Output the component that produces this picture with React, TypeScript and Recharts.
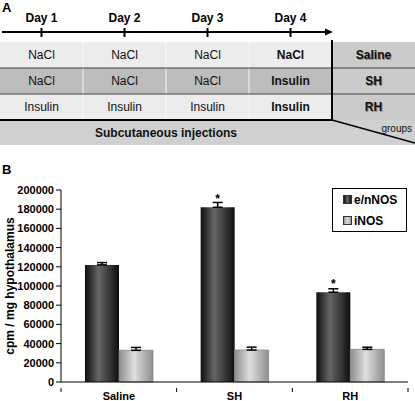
import React from "react";
import {
    BarChart,
    Bar,
    XAxis,
    YAxis,
    ErrorBar,
    LabelList,
    Label,
} from "recharts";

// Panel A: injection schedule
const DAYS = ["Day 1", "Day 2", "Day 3", "Day 4"];
const SCHEDULE = [
    ["NaCl", "NaCl", "NaCl", "NaCl"],
    ["NaCl", "NaCl", "NaCl", "Insulin"],
    ["Insulin", "Insulin", "Insulin", "Insulin"],
];
const GROUP_NAMES = ["Saline", "SH", "RH"];

// Panel B: NOS activity
const GROUPS = ["Saline", "SH", "RH"];
const ENNOS = [122000, 182000, 93500];
const ENNOS_ERR = [2400, 5000, 3600];
const INOS = [33000, 33300, 34000];
const INOS_ERR = [3000, 3000, 2200];
const SIG = ["", "*", "*"];
const Y_TICKS = [0, 20000, 40000, 60000, 80000, 100000, 120000, 140000, 160000, 180000, 200000];

const FONT = "Arial, 'Liberation Sans', sans-serif";

const W = 415;
const CHART_H = 231;
const MARGIN = { top: 20, right: 7, left: 0, bottom: 0 };
const Y_AXIS_W = 61;
const BAND = (W - MARGIN.left - MARGIN.right - Y_AXIS_W) / GROUPS.length;

const data = GROUPS.map((g, i) => ({
    group: g,
    ennos: ENNOS[i],
    ennosErr: [0, ENNOS_ERR[i]],
    inos: INOS[i],
    inosErr: [0, INOS_ERR[i]],
    sig: SIG[i],
}));

function Schedule() {
    const colW = 83;
    const rowTop = 42;
    const rowH = 26;
    const rowFill = ["#ececec", "#bdbdbd", "#ececec"];
    const tableRight = 332;
    return (
        <svg width={W} height={182} style={{ display: "block", position: "absolute", left: 0, top: 0 }} fontFamily={FONT}>
            <text x={2} y={12} fontSize={13} fontWeight="bold">A</text>
            {/* timeline */}
            <line x1={2} y1={32} x2={327} y2={32} stroke="#000" strokeWidth={2} />
            <polygon points="333,32 325,28.5 325,35.5" fill="#000" />
            {DAYS.map((d, i) => {
                const cx = colW * i + colW / 2;
                return (
                    <g key={d}>
                        <line x1={cx} y1={28} x2={cx} y2={37} stroke="#000" strokeWidth={2} />
                        <text x={cx} y={22} fontSize={12} fontWeight="bold" textAnchor="middle">{d}</text>
                    </g>
                );
            })}
            {/* treatment rows */}
            {SCHEDULE.map((row, r) => (
                <g key={r}>
                    <rect x={0} y={rowTop + r * rowH} width={tableRight} height={rowH} fill={rowFill[r]} />
                    {row.map((cell, c) => (
                        <text
                            key={c}
                            x={colW * c + colW / 2}
                            y={rowTop + r * rowH + 17}
                            fontSize={12}
                            fontWeight={c === 3 ? "bold" : "normal"}
                            textAnchor="middle"
                            fill="#111"
                        >
                            {cell}
                        </text>
                    ))}
                    <rect x={tableRight} y={rowTop + r * rowH} width={W - tableRight} height={rowH} fill="#cbcbcb" />
                    <text x={374.5} y={rowTop + r * rowH + 18} fontSize={12} fontWeight="bold" textAnchor="middle" fill="#888">
                        {GROUP_NAMES[r]}
                    </text>
                    <text x={373.5} y={rowTop + r * rowH + 17} fontSize={12} fontWeight="bold" textAnchor="middle" fill="#111">
                        {GROUP_NAMES[r]}
                    </text>
                </g>
            ))}
            {[1, 2, 3].map((c) => (
                <line key={c} x1={colW * c} y1={rowTop} x2={colW * c} y2={rowTop + 3 * rowH} stroke="#f8f8f8" strokeWidth={1} />
            ))}
            {[1, 2].map((r) => (
                <line key={r} x1={0} y1={rowTop + r * rowH} x2={W} y2={rowTop + r * rowH} stroke="#444" strokeWidth={1} />
            ))}
            {/* bottom row */}
            <rect x={0} y={120} width={W} height={25} fill="#d0d0d0" />
            <line x1={0} y1={120} x2={tableRight} y2={120} stroke="#000" strokeWidth={2} />
            <line x1={tableRight} y1={40} x2={tableRight} y2={121} stroke="#000" strokeWidth={2} />
            <line x1={tableRight} y1={120} x2={W} y2={143} stroke="#000" strokeWidth={1.5} />
            <text x={166} y={137} fontSize={12} fontWeight="bold" textAnchor="middle" fill="#111">
                Subcutaneous injections
            </text>
            <text x={412} y={132} fontSize={10} textAnchor="end" fill="#111">groups</text>
            <text x={2} y={174} fontSize={13} fontWeight="bold">B</text>
        </svg>
    );
}

const XTick = (props: any) => {
    const { x, y, payload, index } = props;
    return (
        <g>
            <line x1={x - BAND / 2} y1={y} x2={x - BAND / 2} y2={y + 4} stroke="#000" />
            {index === GROUPS.length - 1 && (
                <line x1={x + BAND / 2} y1={y} x2={x + BAND / 2} y2={y + 4} stroke="#000" />
            )}
            <text x={x} y={y + 12} fontSize={11} fontWeight="bold" textAnchor="middle" fill="#000" fontFamily={FONT}>
                {payload.value}
            </text>
        </g>
    );
};

const SigLabel = (props: any) => {
    const { x, y, width, value } = props;
    if (!value) return null;
    return (
        <text x={x + width / 2} y={y - 4} fontSize={12} fontWeight="bold" textAnchor="middle" fill="#000" fontFamily={FONT}>
            {value}
        </text>
    );
};

const LEGEND_ITEMS = [
    { label: "e/nNOS", fill: "linear-gradient(90deg,#111,#666,#111)" },
    { label: "iNOS", fill: "linear-gradient(90deg,#999,#ddd,#999)" },
];

const LegendBox = () => (
    <div
        style={{
            position: "absolute",
            left: 332,
            top: 188,
            width: 73,
            height: 42,
            border: "1px solid #000",
            background: "#fff",
            fontFamily: FONT,
            fontSize: 12,
            fontWeight: "bold",
        }}
    >
        {LEGEND_ITEMS.map((e) => (
            <div key={e.label} style={{ display: "flex", alignItems: "center", height: 21, paddingLeft: 10 }}>
                <span style={{ width: 7, height: 7, background: e.fill, border: "1px solid #333", marginRight: 2 }} />
                {e.label}
            </div>
        ))}
    </div>
);

export default function App() {
    return (
        <div style={{ position: "absolute", left: 0, top: 0, width: W, height: 401, background: "#fff", overflow: "hidden" }}>
            <Schedule />
            <div style={{ position: "absolute", left: 0, top: 170 }}>
                <BarChart width={W} height={CHART_H} data={data} margin={MARGIN} barGap={0} barSize={34}>
                    <defs>
                        <linearGradient id="gradDark" x1="0" y1="0" x2="1" y2="0">
                            <stop offset="0%" stopColor="#0e0e0e" />
                            <stop offset="40%" stopColor="#666" />
                            <stop offset="100%" stopColor="#0e0e0e" />
                        </linearGradient>
                        <linearGradient id="gradLight" x1="0" y1="0" x2="1" y2="0">
                            <stop offset="0%" stopColor="#8e8e8e" />
                            <stop offset="45%" stopColor="#dedede" />
                            <stop offset="100%" stopColor="#8e8e8e" />
                        </linearGradient>
                    </defs>
                    <XAxis
                        dataKey="group"
                        axisLine={{ stroke: "#000" }}
                        tickLine={false}
                        tickMargin={0}
                        height={19}
                        tick={<XTick />}
                        interval={0}
                    />
                    <YAxis
                        width={Y_AXIS_W}
                        domain={[0, 200000]}
                        ticks={Y_TICKS}
                        interval={0}
                        axisLine={{ stroke: "#000" }}
                        tickLine={{ stroke: "#000" }}
                        tickSize={5}
                        tick={{ fontSize: 11, fontWeight: "bold", fill: "#000", fontFamily: FONT }}
                    >
                        <Label
                            content={(p: any) => {
                                const vb = p.viewBox;
                                const cy = vb.y + vb.height / 2;
                                return (
                                    <text
                                        x={10}
                                        y={cy}
                                        transform={`rotate(-90 10 ${cy})`}
                                        textAnchor="middle"
                                        dominantBaseline="central"
                                        fontSize={12}
                                        fontWeight="bold"
                                        fontFamily={FONT}
                                        fill="#000"
                                    >
                                        cpm  / mg hypothalamus
                                    </text>
                                );
                            }}
                        />
                    </YAxis>
                    <Bar dataKey="ennos" name="e/nNOS" fill="url(#gradDark)" isAnimationActive={false}>
                        <ErrorBar dataKey="ennosErr" width={5} stroke="#000" strokeWidth={1.5} />
                        <LabelList dataKey="sig" content={<SigLabel />} />
                    </Bar>
                    <Bar dataKey="inos" name="iNOS" fill="url(#gradLight)" stroke="#888" strokeWidth={0.8} isAnimationActive={false}>
                        <ErrorBar dataKey="inosErr" width={5} stroke="#000" strokeWidth={1.5} />
                    </Bar>
                </BarChart>
            </div>
            <LegendBox />
        </div>
    );
}
